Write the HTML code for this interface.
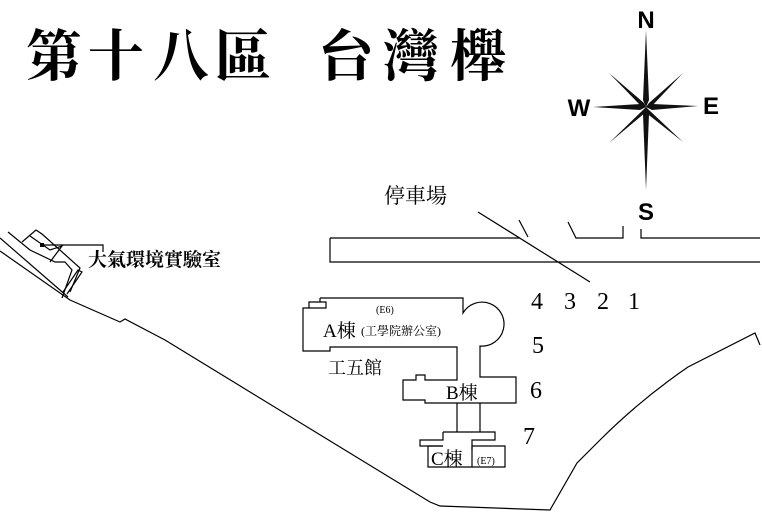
<!DOCTYPE html>
<html><head><meta charset="utf-8"><style>
html,body{margin:0;padding:0;background:#fff;width:762px;height:526px;overflow:hidden}
svg{display:block}
.cjk{font-family:"Liberation Serif","Noto Serif CJK SC","Noto Sans CJK TC",serif}
</style></head><body>
<svg width="762" height="526" viewBox="0 0 762 526" xmlns="http://www.w3.org/2000/svg">
<g class="cjk" font-size="56" font-weight="bold" text-anchor="middle" fill="#000">
<text x="54" y="76">第</text><text x="116" y="76">十</text><text x="181" y="76">八</text><text x="243" y="76">區</text>
<text x="346" y="76">台</text><text x="411" y="76">灣</text><text x="478" y="76">櫸</text>
</g>
<!-- compass -->
<g fill="#111">
<polygon points="646,30 649,100 646,107 643,100"/>
<polygon points="646,190 649,114 646,107 643,114"/>
<polygon points="593,107 640,104 646,107 640,110"/>
<polygon points="698,106 652,104 646,107 652,110"/>
<polygon points="609,73 644,103 646,107 641,106"/>
<polygon points="683,73 649,103 646,107 650,108"/>
<polygon points="609,143 643,110 646,107 646,112"/>
<polygon points="683,142 649,110 646,107 645,112"/>
</g>
<g font-family="Liberation Sans,sans-serif" font-weight="bold" font-size="24" fill="#000" text-anchor="middle">
<text x="646" y="28">N</text><text x="646" y="220">S</text><text x="579" y="116">W</text><text x="711" y="114">E</text>
</g>
<g fill="none" stroke="#000" stroke-width="1.2">
<!-- parking -->
<path d="M760,238 H641 V229"/>
<path d="M568,222 L576,238 H623 V226"/>
<path d="M519,220 L528,237"/>
<path d="M330,238 H520"/>
<path d="M330,238 V262 H760"/>
<path d="M478,212 L590,282"/>
<!-- road -->
<path d="M0,251 L70,300 L120,322 L125,319 L165,340 L430,502 L440,506 L550,510 L577,463 L600,440 Q640,400 688,367 L755,333 L760,345"/>
<path d="M0,238 L68,297"/>
<!-- lab -->
<path d="M8,232 L30,250 L55,262 L65,262 L72,270 L62,298"/>
<path d="M22,242 L36,230 L42,234 L80,268 L70,292"/>
<path d="M30,236 L50,250 L62,246 L50,262"/>
<path d="M63,292 L78,270 L82,272 L67,294"/>
<path d="M42,245 H103 V252"/>
<!-- building A -->
<path d="M320,298 H463 V313 A22,22 0 1 1 480,346 V377 H516 V403 H425 V400 H403 V380 H416 V375 H425 V380 H457 V347 H330 V351 H303 V308 H326 V302 H309 V308"/>
<path d="M320,298 V302"/>
<path d="M457,403 V432 M480,403 V432"/>
<path d="M443,432 H495 V440 H472 V450 M443,432 V440 H420 V446 H443"/>
<path d="M428,446 V467 H505 V446 H472 V467"/>
<path d="M428,446 H443"/>
</g>
<rect x="40" y="243" width="4" height="4" fill="#000"/>
<g class="cjk" fill="#000">
<text x="88" y="266" font-size="19" font-weight="bold">大氣環境實驗室</text>
<text x="384" y="203" font-size="21">停車場</text>
<text x="376" y="313" font-size="10">(E6)</text>
<text x="323" y="337" font-size="19">A棟</text>
<text x="361" y="335" font-size="12">(工學院辦公室)</text>
<text x="328" y="374" font-size="18">工五館</text>
<text x="446" y="399" font-size="19">B棟</text>
<text x="431" y="465" font-size="19">C棟</text>
<text x="477" y="464" font-size="10">(E7)</text>
</g>
<g font-family="Liberation Serif,serif" font-size="24" fill="#000" text-anchor="middle">
<text x="537" y="309">4</text><text x="570" y="309">3</text><text x="603" y="309">2</text><text x="634" y="309">1</text>
<text x="538" y="353">5</text><text x="536" y="398">6</text><text x="529" y="444">7</text>
</g>
</svg>
</body></html>
